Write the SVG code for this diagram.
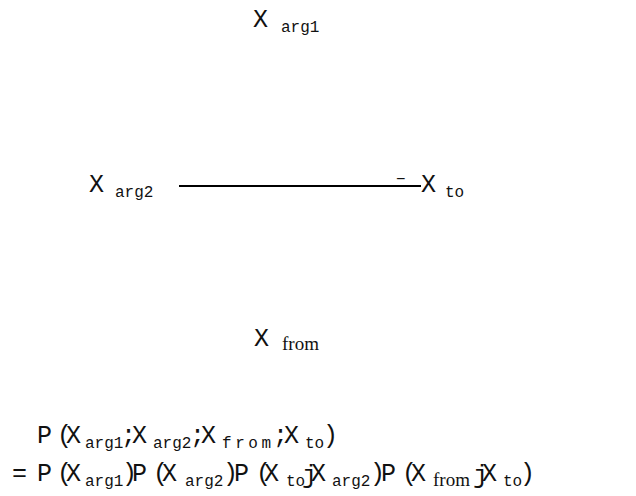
<svg xmlns="http://www.w3.org/2000/svg" width="636" height="496" viewBox="0 0 636 496">
<style>
text{font-family:"Liberation Mono","DejaVu Sans Mono",monospace;fill:#111}
.m{font-size:25px}
.s{font-size:16px}
.f{font-family:"Liberation Serif","DejaVu Serif",serif;font-size:19px}
.e{stroke:#000;stroke-width:2;fill:none}
</style>
<rect width="636" height="496" fill="#fff"/>
<g id="connectors">
<line class="e" x1="179" y1="186" x2="421" y2="186"/>
<text class="s" x="396" y="184">−</text>
</g>
<g id="node-arg1">
<text class="m" x="253" y="27">X</text><text class="s" x="281" y="32">arg1</text>
</g>
<g id="node-arg2">
<text class="m" x="89" y="192">X</text><text class="s" x="115" y="197">arg2</text>
</g>
<g id="node-to">
<text class="m" x="421" y="192">X</text><text class="s" x="445" y="197">to</text>
</g>
<g id="node-from">
<text class="m" x="254" y="346">X</text><text class="f" x="282" y="350">from</text>
</g>
<g id="formula">
<text class="m" x="37" y="443">P</text>
<text class="m" x="57" y="443">(</text>
<text class="m" x="66" y="443">X</text>
<text class="s" x="85" y="448">arg1</text>
<text class="m" x="121" y="443">;</text>
<text class="m" x="132" y="443">X</text>
<text class="s" x="153" y="448">arg2</text>
<text class="m" x="190" y="443">;</text>
<text class="m" x="201" y="443">X</text>
<text class="s" x="222" y="448" textLength="49">from</text>
<text class="m" x="273" y="443">;</text>
<text class="m" x="284" y="443">X</text>
<text class="s" x="305" y="448">to</text>
<text class="m" x="323" y="443">)</text>

<text class="m" x="12" y="481">=</text>
<text class="m" x="37" y="481">P</text>
<text class="m" x="57" y="481">(</text>
<text class="m" x="66" y="481">X</text>
<text class="s" x="85" y="486">arg1</text>
<text class="m" x="122" y="481">)</text>
<text class="m" x="132" y="481">P</text>
<text class="m" x="153" y="481">(</text>
<text class="m" x="162" y="481">X</text>
<text class="s" x="185" y="486">arg2</text>
<text class="m" x="223" y="481">)</text>
<text class="m" x="234" y="481">P</text>
<text class="m" x="256" y="481">(</text>
<text class="m" x="264" y="481">X</text>
<text class="s" x="286" y="486">to</text>
<text class="m" x="302" y="483">j</text>
<text class="m" x="311" y="481">X</text>
<text class="s" x="332" y="486">arg2</text>
<text class="m" x="370" y="481">)</text>
<text class="m" x="381" y="481">P</text>
<text class="m" x="402" y="481">(</text>
<text class="m" x="411" y="481">X</text>
<text class="f" x="433" y="486">from</text>
<text class="m" x="473" y="483">j</text>
<text class="m" x="482" y="481">X</text>
<text class="s" x="503" y="486">to</text>
<text class="m" x="520" y="481">)</text>
</g>
</svg>
